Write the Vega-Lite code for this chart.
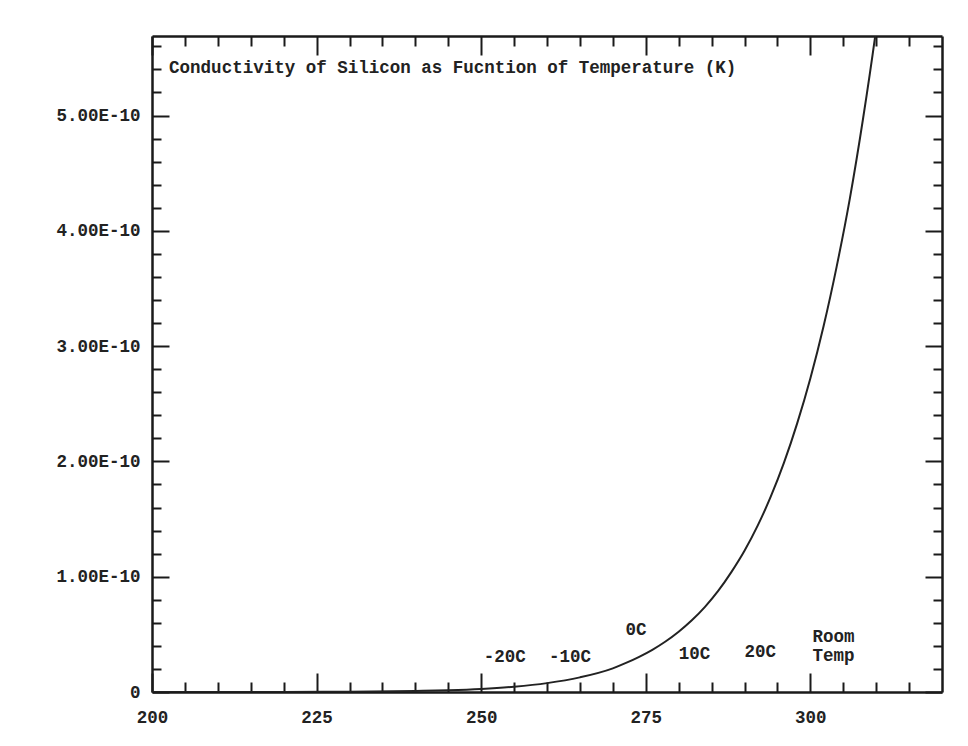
{
  "$schema": "https://vega.github.io/schema/vega-lite/v6.json",
  "width": 790,
  "height": 656,
  "autosize": {"type": "none"},
  "padding": {"left": 152, "top": 36, "right": 26, "bottom": 54},
  "background": "white",
  "config": {
    "view": {"stroke": null},
    "axis": {
      "domainColor": "#1a1a1a",
      "domainWidth": 2.5,
      "tickColor": "#1a1a1a",
      "tickWidth": 2,
      "labelFont": "Liberation Mono",
      "labelFontWeight": "bold",
      "labelFontSize": 17.5,
      "labelColor": "#222222",
      "grid": false,
      "labelFlush": false,
      "labelOverlap": false,
      "labelBound": false
    }
  },
  "datasets": {
    "curve": [
      {"T": 200, "sigma": 5e-15},
      {"T": 210, "sigma": 2e-14},
      {"T": 220, "sigma": 7e-14},
      {"T": 230, "sigma": 2.5e-13},
      {"T": 240, "sigma": 8.6e-13},
      {"T": 245, "sigma": 1.55e-12},
      {"T": 250, "sigma": 2.7e-12},
      {"T": 255, "sigma": 4.6e-12},
      {"T": 260, "sigma": 7.7e-12},
      {"T": 265, "sigma": 1.27e-11},
      {"T": 270, "sigma": 2.05e-11},
      {"T": 272, "sigma": 2.52e-11},
      {"T": 274, "sigma": 3.05e-11},
      {"T": 276, "sigma": 3.66e-11},
      {"T": 278, "sigma": 4.38e-11},
      {"T": 280, "sigma": 5.23e-11},
      {"T": 282, "sigma": 6.22e-11},
      {"T": 284, "sigma": 7.39e-11},
      {"T": 286, "sigma": 8.77e-11},
      {"T": 288, "sigma": 1.04e-10},
      {"T": 290, "sigma": 1.225e-10},
      {"T": 292, "sigma": 1.443e-10},
      {"T": 294, "sigma": 1.696e-10},
      {"T": 296, "sigma": 1.989e-10},
      {"T": 298, "sigma": 2.33e-10},
      {"T": 300, "sigma": 2.72e-10},
      {"T": 302, "sigma": 3.17e-10},
      {"T": 304, "sigma": 3.69e-10},
      {"T": 306, "sigma": 4.28e-10},
      {"T": 308, "sigma": 4.97e-10},
      {"T": 310, "sigma": 5.75e-10},
      {"T": 312, "sigma": 6.65e-10}
    ],
    "labels": [
      {"label": "-20C", "T": 253.6, "sigma": 3.0e-11},
      {"label": "-10C", "T": 263.5, "sigma": 3.0e-11},
      {"label": "0C", "T": 273.5, "sigma": 5.4e-11},
      {"label": "10C", "T": 282.4, "sigma": 3.3e-11},
      {"label": "20C", "T": 292.4, "sigma": 3.5e-11},
      {"label": "Room", "T": 303.5, "sigma": 4.8e-11},
      {"label": "Temp", "T": 303.5, "sigma": 3.15e-11}
    ],
    "heading": [
      {"text": "Conductivity of Silicon as Fucntion of Temperature (K)", "T": 202.6, "sigma": 5.41e-10}
    ]
  },
  "resolve": {"axis": {"x": "independent", "y": "independent"}},
  "layer": [
    {
      "data": {"name": "curve"},
      "mark": {"type": "line", "color": "#222222", "strokeWidth": 2, "clip": true, "interpolate": "monotone"},
      "encoding": {
        "x": {
          "field": "T", "type": "quantitative",
          "scale": {"domain": [200, 320], "nice": false, "zero": false},
          "axis": {
            "orient": "bottom", "title": null,
            "values": [200, 205, 210, 215, 220, 225, 230, 235, 240, 245, 250, 255, 260, 265, 270, 275, 280, 285, 290, 295, 300, 305, 310, 315],
            "tickSize": {"condition": {"test": "datum.value % 25 === 0", "value": -19}, "value": -10},
            "labelExpr": "datum.value % 25 === 0 ? datum.label : ''",
            "labelPadding": 35
          }
        },
        "y": {
          "field": "sigma", "type": "quantitative",
          "scale": {"domain": [0, 5.69e-10], "nice": false, "zero": false},
          "axis": {
            "orient": "left", "title": null,
            "values": [0, 2e-11, 4e-11, 6e-11, 8e-11, 1e-10, 1.2e-10, 1.4e-10, 1.6e-10, 1.8e-10, 2e-10, 2.2e-10, 2.4e-10, 2.6e-10, 2.8e-10, 3e-10, 3.2e-10, 3.4e-10, 3.6e-10, 3.8e-10, 4e-10, 4.2e-10, 4.4e-10, 4.6e-10, 4.8e-10, 5e-10, 5.2e-10, 5.4e-10, 5.6e-10],
            "tickSize": {"condition": {"test": "abs(datum.value * 1e10 - round(datum.value * 1e10)) < 1e-6", "value": -17}, "value": -9},
            "labelExpr": "datum.value === 0 ? '0' : (abs(datum.value * 1e10 - round(datum.value * 1e10)) < 1e-6 ? upper(format(datum.value, '.2e')) : '')",
            "labelPadding": 29
          }
        }
      }
    },
    {
      "data": {"name": "labels"},
      "mark": {"type": "text", "font": "Liberation Mono", "fontWeight": "bold", "fontSize": 17.5, "color": "#222222", "align": "center", "baseline": "middle"},
      "encoding": {
        "x": {
          "field": "T", "type": "quantitative",
          "scale": {"domain": [200, 320], "nice": false, "zero": false},
          "axis": {
            "orient": "top", "title": null, "labels": false,
            "values": [200, 205, 210, 215, 220, 225, 230, 235, 240, 245, 250, 255, 260, 265, 270, 275, 280, 285, 290, 295, 300, 305, 310, 315],
            "tickSize": {"condition": {"test": "datum.value % 25 === 0", "value": -19}, "value": -10}
          }
        },
        "y": {
          "field": "sigma", "type": "quantitative",
          "scale": {"domain": [0, 5.69e-10], "nice": false, "zero": false},
          "axis": {
            "orient": "right", "title": null, "labels": false,
            "values": [0, 2e-11, 4e-11, 6e-11, 8e-11, 1e-10, 1.2e-10, 1.4e-10, 1.6e-10, 1.8e-10, 2e-10, 2.2e-10, 2.4e-10, 2.6e-10, 2.8e-10, 3e-10, 3.2e-10, 3.4e-10, 3.6e-10, 3.8e-10, 4e-10, 4.2e-10, 4.4e-10, 4.6e-10, 4.8e-10, 5e-10, 5.2e-10, 5.4e-10, 5.6e-10],
            "tickSize": {"condition": {"test": "abs(datum.value * 1e10 - round(datum.value * 1e10)) < 1e-6", "value": -17}, "value": -9}
          }
        },
        "text": {"field": "label", "type": "nominal"}
      }
    },
    {
      "data": {"name": "heading"},
      "mark": {"type": "text", "font": "Liberation Mono", "fontWeight": "bold", "fontSize": 17.5, "color": "#222222", "align": "left", "baseline": "middle"},
      "encoding": {
        "x": {"field": "T", "type": "quantitative", "scale": {"domain": [200, 320], "nice": false, "zero": false}, "axis": null},
        "y": {"field": "sigma", "type": "quantitative", "scale": {"domain": [0, 5.69e-10], "nice": false, "zero": false}, "axis": null},
        "text": {"field": "text", "type": "nominal"}
      }
    }
  ]
}
